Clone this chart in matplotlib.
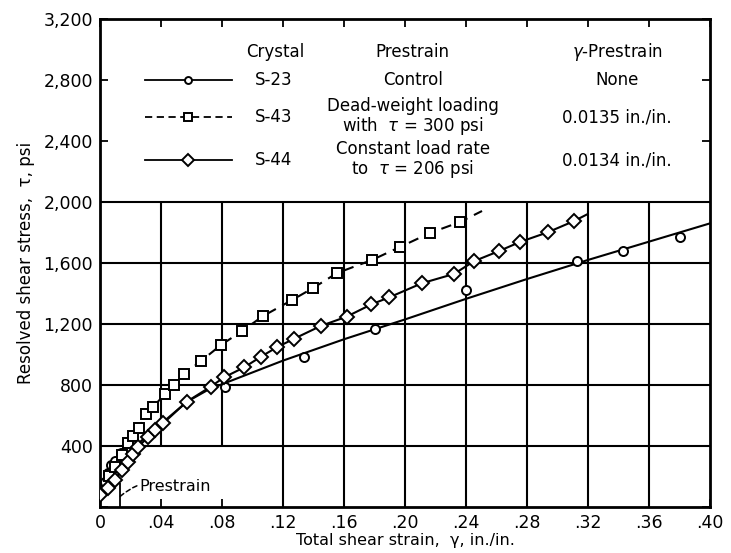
import numpy as np
import matplotlib.pyplot as plt

# S-23 control crystal: measured points and the smooth curve drawn through them
s23_strain = [0.003, 0.0055, 0.0075, 0.010, 0.014, 0.018, 0.082, 0.134, 0.180, 0.240, 0.313, 0.343, 0.380]
s23_stress = [166, 221, 275, 300, 352, 390, 790, 985, 1165, 1420, 1615, 1680, 1770]
s23_curve_strain = [0.0, 0.005, 0.01, 0.02, 0.03, 0.04, 0.057, 0.072, 0.08, 0.12, 0.16, 0.20, 0.24, 0.28, 0.32, 0.36, 0.40]
s23_curve_stress = [80, 170, 250, 370, 460, 545, 690, 775, 805, 960, 1100, 1230, 1365, 1495, 1620, 1740, 1860]

# S-43 dead-weight prestrain
s43_strain = [0.006, 0.010, 0.0146, 0.0184, 0.0216, 0.0256, 0.0302, 0.0348, 0.0426, 0.0485, 0.0551,
              0.0662, 0.0793, 0.0931, 0.1069, 0.1259, 0.1397, 0.1554, 0.1784, 0.1967, 0.2164, 0.2361]
s43_stress = [200, 265, 340, 420, 466, 518, 610, 656, 741, 800, 872,
              957, 1062, 1154, 1252, 1357, 1436, 1534, 1620, 1705, 1797, 1869]
s43_end = (0.2505, 1941)

# S-44 constant load rate prestrain
s44_strain = [0.0, 0.0055, 0.0098, 0.0142, 0.0181, 0.0219, 0.0251, 0.0317, 0.036, 0.0415, 0.0568,
              0.0726, 0.0813, 0.0946, 0.1056, 0.1159, 0.1274, 0.1447, 0.1617, 0.178, 0.1897,
              0.211, 0.232, 0.2455, 0.2618, 0.2754, 0.2935, 0.3108]
s44_stress = [79, 123, 177, 243, 297, 347, 395, 461, 505, 549, 690,
              789, 850, 916, 986, 1047, 1104, 1187, 1248, 1329, 1375,
              1467, 1528, 1613, 1679, 1738, 1801, 1875]
s44_end = (0.3198, 1921)

x_ticks = [0, 0.04, 0.08, 0.12, 0.16, 0.20, 0.24, 0.28, 0.32, 0.36, 0.40]
x_labels = ['0', '.04', '.08', '.12', '.16', '.20', '.24', '.28', '.32', '.36', '.40']
y_ticks = [0, 400, 800, 1200, 1600, 2000, 2400, 2800, 3200]
y_labels = ['', '400', '800', '1,200', '1,600', '2,000', '2,400', '2,800', '3,200']

prestrain_x = 0.0133

plt.rcParams['font.family'] = ['DejaVu Sans']
plt.rcParams['mathtext.fontset'] = 'dejavusans'
fig = plt.figure(figsize=(7.31, 5.53), dpi=100)
ax = fig.add_axes([0.1368, 0.0832, 0.8345, 0.8824])
ax.set_xlim(0, 0.40)
ax.set_ylim(0, 3200)

# grid only inside the data region (below 2,000)
for gy in [400, 800, 1200, 1600, 2000]:
    ax.hlines(gy, 0, 0.40, color='black', lw=1.5, zorder=1)
for gx in x_ticks[1:-1]:
    ymin = 400 if gx < 0.1 else 0
    ax.vlines(gx, ymin, 2000, color='black', lw=1.5, zorder=1)

mk = dict(mfc='white', mec='black', mew=1.4, color='black')

# S-23
ax.plot(s23_curve_strain, s23_curve_stress, '-', lw=1.5, color='black', zorder=2)
ax.plot(s23_strain, s23_stress, 'o', ms=6.5, zorder=4, **mk)

# S-43
ax.plot(s43_strain + [s43_end[0]], s43_stress + [s43_end[1]], ls=(0, (5, 3.5)), lw=1.5, color='black', zorder=2)
ax.plot(s43_strain, s43_stress, 's', ms=7, zorder=4, **mk)

# S-44
ax.plot(s44_strain + [s44_end[0]], s44_stress + [s44_end[1]], '-', lw=1.5, color='black', zorder=2)
ax.plot(s44_strain, s44_stress, 'D', ms=7, zorder=4, **mk)

# prestrain marker
ax.vlines(prestrain_x, 0, 160, color='black', lw=1.3, zorder=3)
ax.annotate('Prestrain', xy=(prestrain_x, 70), xytext=(0.026, 135),
            fontsize=11.5, va='center', ha='left',
            arrowprops=dict(arrowstyle='-', ls=(0, (3, 2)), lw=1.1, color='black',
                            connectionstyle='arc3,rad=0.3', shrinkA=0, shrinkB=0))

# legend block in upper part of the frame
fs = 12
ax.text(0.115, 2985, 'Crystal', fontsize=fs, ha='center', va='center')
ax.text(0.205, 2985, 'Prestrain', fontsize=fs, ha='center', va='center')
ax.text(0.339, 2985, r'$\gamma$-Prestrain', fontsize=fs, ha='center', va='center')

rows = [2800, 2557, 2275]
styles = [('-', 'o', 5), ((0, (4, 2.5)), 's', 5.5), ('-', 'D', 6.5)]
names = ['S-23', 'S-43', 'S-44']
prest = ['Control', 'Dead-weight loading\nwith  $\\tau$ = 300 psi', 'Constant load rate\nto  $\\tau$ = 206 psi']
gam = ['None', '0.0135 in./in.', '0.0134 in./in.']
for ry, (ls, m, ms), nm, pr, gm in zip(rows, styles, names, prest, gam):
    ax.plot([0.0295, 0.0866], [ry, ry], ls=ls, lw=1.3, color='black')
    ax.plot([0.058], [ry], m, ms=ms, **mk)
    ax.text(0.114, ry, nm, fontsize=fs, ha='center', va='center')
    ax.text(0.205, ry, pr, fontsize=fs, ha='center', va='center', linespacing=0.95)
    ax.text(0.339, ry, gm, fontsize=fs, ha='center', va='center')

ax.set_xticks(x_ticks, x_labels)
ax.set_yticks(y_ticks, y_labels)
ax.tick_params(direction='in', length=6, width=1.3, top=True, right=True, labelsize=12.5, pad=5)
for s in ax.spines.values():
    s.set_linewidth(2)
ax.set_xlabel('Total shear strain,  γ, in./in.', fontsize=11.5, labelpad=1)
ax.set_ylabel('Resolved shear stress,  τ, psi', fontsize=12, labelpad=6)

fig.savefig('out.png', dpi=100)
